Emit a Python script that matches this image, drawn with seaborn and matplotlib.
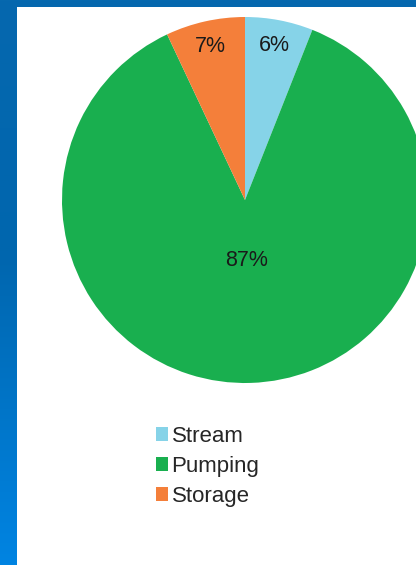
import numpy as np
import matplotlib
matplotlib.use("Agg")
import matplotlib.pyplot as plt
from matplotlib.patches import Rectangle
import seaborn as sns

# Share of water source by category
categories = ["Stream", "Pumping", "Storage"]
shares = [6, 87, 7]
colors = ["#86d3e8", "#19af4f", "#f47f3a"]
# radial position of each percentage label (fraction of radius)
label_radius = [0.86, 0.33, 0.86]

sns.set_style("white")
plt.rcParams["font.family"] = ["Liberation Sans", "DejaVu Sans"]

W, H = 416, 565
fig = plt.figure(figsize=(W / 100, H / 100), dpi=100)

# blue gradient backdrop
bg = fig.add_axes([0, 0, 1, 1], zorder=0)
grad = np.linspace(0, 1, 256).reshape(-1, 1)
top = np.array([0x06, 0x68, 0xae]) / 255
mid = np.array([0x00, 0x66, 0xae]) / 255
bot = np.array([0x00, 0x84, 0xe2]) / 255
t = grad[..., None]
img = np.where(t < 0.45, top + (mid - top) * (t / 0.45),
               mid + (bot - mid) * ((t - 0.45) / 0.55))
bg.imshow(img, aspect="auto", extent=[0, 1, 0, 1], origin="upper")
bg.add_patch(Rectangle((17 / W, 0), 1, (H - 7) / H, facecolor="white",
                       edgecolor="none", transform=bg.transAxes))
bg.set_xlim(0, 1)
bg.set_ylim(0, 1)
bg.axis("off")

# pie axes: centre (245, 200) px, radius 183 px
cx, cy, r = 245, 200, 183
ax = fig.add_axes([(cx - r) / W, (H - cy - r) / H, 2 * r / W, 2 * r / H], zorder=1)
wedges, _, autotexts = ax.pie(
    shares, colors=colors, startangle=90, counterclock=False, radius=1,
    autopct="%1.0f%%", pctdistance=0.6,
    wedgeprops=dict(edgecolor="none", linewidth=0),
    textprops=dict(fontsize=15.5, color="#1a1a1a"),
)
for w, txt, rr in zip(wedges, autotexts, label_radius):
    ang = np.deg2rad((w.theta1 + w.theta2) / 2)
    txt.set_position((rr * np.cos(ang), rr * np.sin(ang)))
ax.set_xlim(-1, 1)
ax.set_ylim(-1, 1)
ax.set_aspect("equal")
ax.axis("off")

leg = fig.legend(
    wedges, categories, loc="upper left",
    bbox_to_anchor=(136 / W, 1 - 406 / H), frameon=False,
    fontsize=16, handlelength=0.55, handleheight=0.55, handletextpad=0.15,
    labelspacing=0.4,
)
for h in leg.legend_handles:
    h.set_edgecolor("none")

fig.savefig("out.png", dpi=100)
